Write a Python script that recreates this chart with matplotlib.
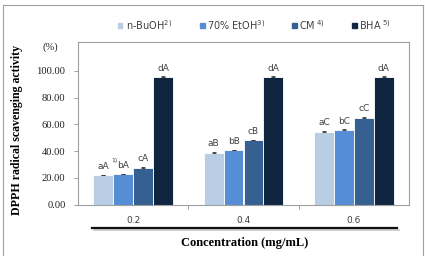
import matplotlib
matplotlib.use("Agg")
import matplotlib.pyplot as plt
import numpy as np
from matplotlib.lines import Line2D

categories = ["0.2", "0.4", "0.6"]
series_names = ["n-BuOH", "70% EtOH", "CM", "BHA"]
series_sups = ["2)", "3)", "4)", "5)"]
values = {
    "n-BuOH": [21.8, 38.8, 54.3],
    "70% EtOH": [22.6, 40.4, 55.9],
    "CM": [27.6, 47.9, 65.0],
    "BHA": [95.2, 95.2, 95.2],
}
errors = {
    "n-BuOH": [0.6, 0.5, 0.9],
    "70% EtOH": [0.5, 0.5, 0.5],
    "CM": [0.6, 0.6, 0.6],
    "BHA": [0.6, 0.6, 0.6],
}
letters = {
    "n-BuOH": ["aA", "aB", "aC"],
    "70% EtOH": ["bA", "bB", "bC"],
    "CM": ["cA", "cB", "cC"],
    "BHA": ["dA", "dA", "dA"],
}
yticks = [0, 20, 40, 60, 80, 100]
colors = ["#b9cde5", "#558ed5", "#376092", "#10253f"]

W, H = 425, 256
fig = plt.figure(figsize=(W / 100, H / 100), dpi=100)
fig.patch.set_facecolor("white")

ax_l, ax_r, ax_t, ax_b = 78, 409, 42, 204.5
ax = fig.add_axes([ax_l / W, 1 - ax_b / H, (ax_r - ax_l) / W, (ax_b - ax_t) / H])

x = np.arange(len(categories))
bw = 0.18
n = len(series_names)
for i, name in enumerate(series_names):
    xs = x + (i - (n - 1) / 2) * bw
    ax.bar(xs, values[name], bw, color=colors[i], edgecolor="white", linewidth=0.6, zorder=2)
    ax.errorbar(xs, values[name], yerr=[[0] * 3, errors[name]], fmt="none",
                ecolor="#333333", elinewidth=0.6, capsize=1.5, capthick=0.6, zorder=3)
    for j, (xv, yv) in enumerate(zip(xs, values[name])):
        ax.annotate(letters[name][j], (xv, yv + errors[name][j]), xytext=(0, 2.5),
                    textcoords="offset points", ha="center", va="bottom",
                    fontsize=6.5, color="#404040", family="DejaVu Sans")
        if i == 0 and j == 0:
            ax.annotate("1)", (xv, yv + errors[name][j]), xytext=(6, 8),
                        textcoords="offset points", ha="left", va="bottom",
                        fontsize=4.5, color="#404040", family="DejaVu Sans")

ax.set_xlim(-0.5, 2.5)
ax.set_ylim(0, 121.5)
ax.set_yticks(yticks)
ax.set_yticklabels([f"{v:.2f}" for v in yticks], family="Liberation Serif", fontsize=7.6, color="#222222")
ax.set_xticks(x)
ax.set_xticklabels(categories, family="DejaVu Sans", fontsize=6.5, color="#404040")
ax.set_xticks([0.5, 1.5], minor=True)
ax.tick_params(axis="x", which="major", length=0, pad=8)
ax.tick_params(axis="x", which="minor", length=3, color="#a0a0a0", width=0.7)
ax.tick_params(axis="y", length=3, color="#a0a0a0", width=0.7, pad=6)
for s in ax.spines.values():
    s.set_color("#a0a0a0")
    s.set_linewidth(0.8)

# (%) label
fig.text(50 / W, 1 - 47 / H, "(%)", family="Liberation Serif", fontsize=7.6, ha="center", va="center", color="#222222")

# y axis label
fig.text(17 / W, 1 - 130 / H, "DPPH radical scavenging activity", rotation=90,
         family="Liberation Serif", fontweight="bold", fontsize=8.6, ha="center", va="center")

# legend
leg_items = [(118, 126), (200, 207), (292, 299), (352, 359)]
for i, name in enumerate(series_names):
    sx, tx = leg_items[i]
    fig.patches.append(matplotlib.patches.Rectangle((sx / W, 1 - 27.5 / H), 4.5 / W, 4.5 / H,
                                                    transform=fig.transFigure, color=colors[i]))
    sup = " " + series_sups[i] if name in ("CM", "BHA") else series_sups[i]
    fig.text(tx / W, 1 - 25 / H, name + r"$^{\mathrm{" + sup.replace(" ", r"\ ") + "}}$",
             fontsize=7, color="#404040", family="DejaVu Sans", ha="left", va="center")

# thick line under x axis with soft shadow
fig.add_artist(Line2D([94 / W, 399 / W], [1 - 230 / H, 1 - 230 / H], color="#c8c8c8", linewidth=1.2,
                      transform=fig.transFigure))
fig.add_artist(Line2D([92 / W, 397 / W], [1 - 228 / H, 1 - 228 / H], color="#111111", linewidth=1.6,
                      transform=fig.transFigure))

fig.text(245 / W, 1 - 243 / H, "Concentration (mg/mL)", family="Liberation Serif",
         fontweight="bold", fontsize=9, ha="center", va="center")

# outer frame
frame_c = "#a0a0a0"
fig.add_artist(Line2D([3 / W, 3 / W], [0, 1 - 4.5 / H], color=frame_c, linewidth=0.8, transform=fig.transFigure))
fig.add_artist(Line2D([3 / W, 423 / W], [1 - 4.5 / H, 1 - 4.5 / H], color=frame_c, linewidth=0.8, transform=fig.transFigure))
fig.add_artist(Line2D([423 / W, 423 / W], [0, 1 - 4.5 / H], color=frame_c, linewidth=0.8, transform=fig.transFigure))

fig.savefig("out.png", dpi=100, facecolor="white")
